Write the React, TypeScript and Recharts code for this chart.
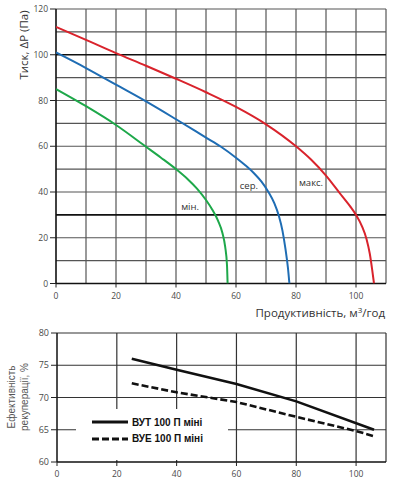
import React from 'react';
import { LineChart, Line, XAxis, YAxis, ReferenceLine, ReferenceDot, Label } from 'recharts';

// fan curves: flow m3/h vs pressure Pa
const maxFlow = [0, 10, 20, 30, 40, 50, 60, 70, 80, 85, 90, 95, 98, 100, 102, 103.5, 104.6, 105.4, 106];
const maxPressure = [112.2, 106.5, 100.7, 95.2, 89.5, 83.6, 77.2, 69.6, 60, 54.2, 47.2, 38.8, 33.8, 30, 25, 19.5, 13, 6, 0];
const midFlow = [0, 10, 20, 30, 40, 50, 55, 60, 63, 66, 68.5, 70.8, 72.8, 74.3, 75.5, 76.5, 77.3, 77.8];
const midPressure = [101, 94.2, 86.9, 79.6, 71.8, 63.8, 59.8, 55, 51.8, 48.2, 44.5, 40, 35, 29.5, 23, 15, 7, 0];
const minFlow = [0, 10, 20, 30, 35, 40, 44, 47, 50, 52, 54, 55.5, 56.4, 57, 57.2];
const minPressure = [85, 77.5, 69.3, 59.8, 55, 50, 45.5, 41.5, 36.5, 32.5, 27.5, 22, 16, 8, 0];

const curveLabels = [
  { text: 'мін.', x: 44.7, y: 33.6 },
  { text: 'сер.', x: 64.3, y: 42.7 },
  { text: 'макс.', x: 85, y: 43.9 },
];

const flowTicks = [0, 20, 40, 60, 80, 100];
const flowGrid = [10, 20, 30, 40, 50, 60, 70, 80, 90, 100, 110];
const pressureTicks = [0, 20, 40, 60, 80, 100, 120];
const pressureGrid = [10, 20, 40, 50, 60, 70, 80, 90, 110, 120];
const pressureBold = [30, 100];

// recuperation efficiency
const vutFlow = [25, 40, 60, 80, 106];
const vutEff = [76, 74.3, 72.1, 69.4, 65];
const vueFlow = [25, 40, 60, 80, 100, 106];
const vueEff = [72.2, 70.8, 69.3, 67, 64.8, 64];
const effTicks = [60, 65, 70, 75, 80];
const effGrid = [65, 70, 75, 80];
const recFlowGrid = [20, 40, 60, 80, 100, 110];

const legendItems = [
  { name: 'ВУТ 100 П міні', dash: undefined },
  { name: 'ВУЕ 100 П міні', dash: '7 3' },
];

const toRows = (xs: number[], ys: number[]) => xs.map((x, i) => ({ x, y: ys[i] }));

const tickStyle = { fontSize: 8.5, fill: '#4a4a4a', fontFamily: 'Open Sans' };
const titleFont = 'Open Sans';

export default function App() {
  return (
    <div style={{ position: 'absolute', left: 0, top: 0, width: 400, height: 487, background: '#fff' }}>
      <LineChart width={400} height={320} margin={{ top: 9, right: 14, left: 0, bottom: 0 }}>
        <XAxis
          dataKey='x'
          type='number'
          domain={[0, 110]}
          ticks={flowTicks}
          allowDataOverflow
          height={36.5}
          tick={tickStyle}
          tickSize={4}
          tickMargin={5}
          axisLine={false}
          tickLine={{ stroke: '#222' }}
        >
          <Label
            content={() => (
              <text x={385} y={317} textAnchor='end' fontSize={11.5} fill='#333' fontFamily={titleFont}>
                Продуктивність,  м<tspan dy={-4} fontSize={8}>3</tspan><tspan dy={4}>/год</tspan>
              </text>
            )}
          />
        </XAxis>
        <YAxis
          type='number'
          domain={[0, 120]}
          ticks={pressureTicks}
          allowDataOverflow
          width={56}
          tick={tickStyle}
          tickSize={6}
          tickMargin={2}
          axisLine={false}
          tickLine={{ stroke: '#222' }}
        >
          <Label
            content={() => (
              <text x={23} y={45} transform='rotate(-90 23 45)' textAnchor='middle' dominantBaseline='central' fontSize={11.5} fill='#333' fontFamily={titleFont}>
                Тиск, ΔP (Па)
              </text>
            )}
          />
        </YAxis>
        {flowGrid.map(v => <ReferenceLine key={'vx' + v} x={v} stroke='#555' strokeWidth={1.2} />)}
        {pressureGrid.map(v => <ReferenceLine key={'hy' + v} y={v} stroke='#555' strokeWidth={1.2} />)}
        {pressureBold.map(v => <ReferenceLine key={'by' + v} y={v} stroke='#111' strokeWidth={1.6} />)}
        <ReferenceLine x={0} stroke='#111' strokeWidth={1.6} />
        <ReferenceLine y={0} stroke='#111' strokeWidth={1.6} />
        <Line data={toRows(minFlow, minPressure)} dataKey='y' type='monotone' stroke='#1ea84a' strokeWidth={2} dot={false} isAnimationActive={false} />
        <Line data={toRows(midFlow, midPressure)} dataKey='y' type='monotone' stroke='#1f6db4' strokeWidth={2} dot={false} isAnimationActive={false} />
        <Line data={toRows(maxFlow, maxPressure)} dataKey='y' type='monotone' stroke='#d9232c' strokeWidth={2} dot={false} isAnimationActive={false} />
        {curveLabels.map(l => (
          <ReferenceDot
            key={l.text}
            x={l.x}
            y={l.y}
            r={0}
            fill='none'
            stroke='none'
            label={{ value: l.text, position: 'center', fontSize: 9.5, fill: '#333', fontFamily: titleFont }}
          />
        ))}
      </LineChart>

      <div style={{ position: 'absolute', left: 0, top: 320 }}>
        <LineChart width={400} height={167} margin={{ top: 13, right: 14, left: 0, bottom: 0 }}>
          <XAxis
            dataKey='x'
            type='number'
            domain={[0, 110]}
            ticks={flowTicks}
            allowDataOverflow
            height={25}
            tick={tickStyle}
            tickSize={4}
            tickMargin={5}
            axisLine={false}
            tickLine={{ stroke: '#222' }}
          />
          <YAxis
            type='number'
            domain={[60, 80]}
            ticks={effTicks}
            allowDataOverflow
            width={57}
            tick={{ ...tickStyle, fontSize: 9 }}
            tickSize={6}
            tickMargin={2}
            axisLine={false}
            tickLine={{ stroke: '#222' }}
          >
            <Label
              content={() => (
                <text transform='rotate(-90 19 77)' x={19} y={77} textAnchor='middle' fontSize={10} fill='#555' fontFamily='Liberation Sans'>
                  <tspan x={19} dy={-4}>Ефективність</tspan>
                  <tspan x={19} dy={13}>рекуперації, %</tspan>
                </text>
              )}
            />
          </YAxis>
          {recFlowGrid.map(v => <ReferenceLine key={'rx' + v} x={v} stroke='#333' strokeWidth={1.2} />)}
          {effGrid.map(v => <ReferenceLine key={'ry' + v} y={v} stroke='#333' strokeWidth={1.2} />)}
          <ReferenceLine x={0} stroke='#111' strokeWidth={1.5} />
          <ReferenceLine y={60} stroke='#111' strokeWidth={1.5} />
          <Line data={toRows(vutFlow, vutEff)} dataKey='y' type='linear' stroke='#111' strokeWidth={2.6} dot={false} isAnimationActive={false} />
          <Line data={toRows(vueFlow, vueEff)} dataKey='y' type='linear' stroke='#111' strokeWidth={2.6} strokeDasharray='7 3' dot={false} isAnimationActive={false} />
        </LineChart>
        <div style={{ position: 'absolute', left: 76, top: 89, width: 152, height: 51, background: '#fff' }}>
          {legendItems.map((item, i) => (
            <div key={item.name} style={{ position: 'absolute', left: 16, top: 6 + i * 16.5, height: 14, display: 'flex', alignItems: 'center' }}>
              <svg width={37} height={6} style={{ display: 'block' }}>
                <line x1={0} y1={3} x2={36} y2={3} stroke='#111' strokeWidth={3} strokeDasharray={item.dash} />
              </svg>
              <span style={{ marginLeft: 3, fontFamily: 'Liberation Sans', fontWeight: 'bold', fontSize: 10, color: '#111', whiteSpace: 'nowrap' }}>
                {item.name}
              </span>
            </div>
          ))}
        </div>
      </div>
    </div>
  );
}
